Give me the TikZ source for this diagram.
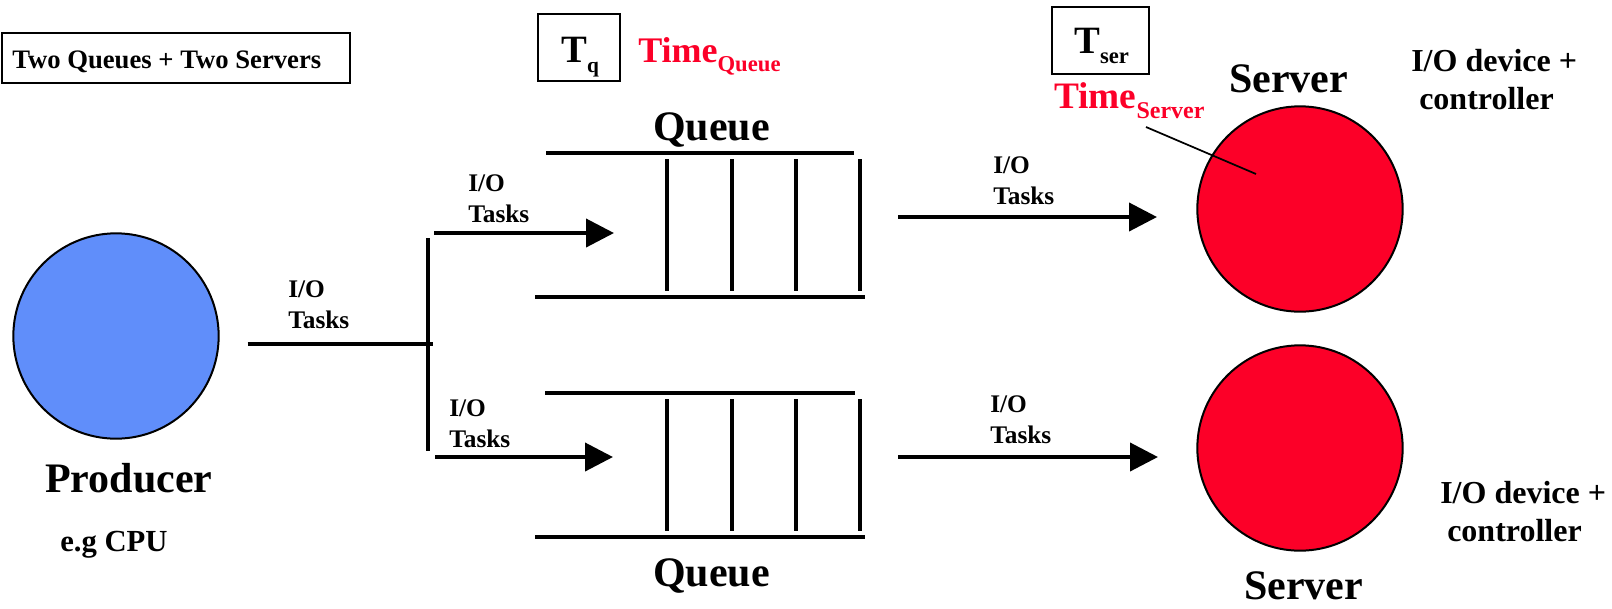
\documentclass[tikz,border=0pt]{standalone}
\usepackage{fontspec}
\setmainfont{Liberation Serif}
\usetikzlibrary{arrows.meta}
\definecolor{prodblue}{RGB}{96,142,250}
\definecolor{servred}{RGB}{252,0,40}
\newcommand\myfs[1]{\fontsize{#1}{#1}\selectfont}
\tikzset{
  lbl/.style={anchor=base west, inner sep=0pt, font=\bfseries},
  conn/.style={line width=3pt},
  arr/.style={line width=3pt, -{Triangle[length=21pt,width=21pt]}},
  qline/.style={line width=3pt},
  qbar/.style={line width=2.4pt},
  ball/.style={circle, draw, line width=1.5pt, minimum size=154pt, inner sep=0pt},
  tbox/.style={draw, line width=1.6pt}
}
\begin{document}
\begin{tikzpicture}[x=0.75pt,y=-0.75pt]
\useasboundingbox (0,0) rectangle (1612,608);
% title box
\draw[tbox] (2,33) rectangle (350,83);
\node[lbl] (title) at (12,68) {\myfs{20}Two Queues + Two Servers};
% T_q box
\draw[tbox] (538,14) rectangle (620,81);
\node[lbl] (tq) at (561,62) {\myfs{29}T\raisebox{-8.2pt}{\myfs{16}q}};
\node[lbl, text=servred] (timeq) at (638,62) {\myfs{27}Time\raisebox{-6.8pt}{\myfs{17}Queue}};
% T_ser box
\draw[tbox] (1052,7) rectangle (1149,74);
\node[lbl] (tser) at (1074,53) {\myfs{29}T\raisebox{-8.2pt}{\myfs{17}ser}};
\node[lbl, text=servred] (times) at (1054,108) {\myfs{28}Time\raisebox{-7.5pt}{\myfs{18}Server}};
% producer
\node[ball, fill=prodblue] (prod) at (116,336) {};
\node[lbl] (prodlbl) at (45,492) {\myfs{31.5}Producer};
\node[lbl] (cpu) at (60,551) {\myfs{23}e.g CPU};
% servers
\node[ball, fill=servred] (srv1) at (1300,209) {};
\node[ball, fill=servred] (srv2) at (1300,448) {};
\node[lbl] (srv1lbl) at (1229,92) {\myfs{31.5}Server};
\node[lbl] (srv2lbl) at (1244,599) {\myfs{31.5}Server};
\node[lbl] (dev1a) at (1411,71) {\myfs{24}I/O device +};
\node[lbl] (dev1b) at (1419,109) {\myfs{24}controller};
\node[lbl] (dev2a) at (1440,503) {\myfs{24}I/O device +};
\node[lbl] (dev2b) at (1447,541) {\myfs{24}controller};
% queue labels
\node[lbl] (q1lbl) at (653,140) {\myfs{31.5}Queue};
\node[lbl] (q2lbl) at (653,586) {\myfs{31.5}Queue};
% queue 1
\draw[qline] (546,153) -- (854,153);
\draw[qline] (535,297) -- (865,297);
\foreach \x in {667,732,796,860} \draw[qbar] (\x,159) -- (\x,291);
% queue 2
\draw[qline] (545,393) -- (855,393);
\draw[qline] (535,537) -- (865,537);
\foreach \x in {667,732,796,860} \draw[qbar] (\x,399) -- (\x,531);
% split
\coordinate (split) at (428,344);
\coordinate (bt) at (428,238);
\coordinate (bb) at (428,451);
\coordinate (a1s) at (434,233);
\coordinate (a1e) at (614,233);
\coordinate (a2s) at (435,457);
\coordinate (a2e) at (613,457);
\coordinate (r1s) at (898,217);
\coordinate (r1e) at (1157,217);
\coordinate (r2s) at (898,457);
\coordinate (r2e) at (1158,457);
\draw[conn, shorten <=21pt, shorten >=-4pt] (prod.east |- split) -- (split);
\draw[conn] (bt) -- (bb);
\draw[arr] (a1s) -- (a1e);
\draw[arr] (a2s) -- (a2e);
\draw[arr] (r1s) -- (r1e);
\draw[arr] (r2s) -- (r2e);
% leader
\coordinate (lead) at (1146,127);
\draw[line width=1.3pt] (lead) -- (1256,174) coordinate (leadend);
% I/O Tasks labels
\node[lbl] (io1) at (288,297) {\myfs{19}I/O};
\node[lbl] (tk1) at (288,328) {\myfs{19}Tasks};
\node[lbl] (io2) at (468,191) {\myfs{19}I/O};
\node[lbl] (tk2) at (468,222) {\myfs{19}Tasks};
\node[lbl] (io3) at (449,416) {\myfs{19}I/O};
\node[lbl] (tk3) at (449,447) {\myfs{19}Tasks};
\node[lbl] (io4) at (993,173) {\myfs{19}I/O};
\node[lbl] (tk4) at (993,204) {\myfs{19}Tasks};
\node[lbl] (io5) at (990,412) {\myfs{19}I/O};
\node[lbl] (tk5) at (990,443) {\myfs{19}Tasks};
\end{tikzpicture}
\end{document}
